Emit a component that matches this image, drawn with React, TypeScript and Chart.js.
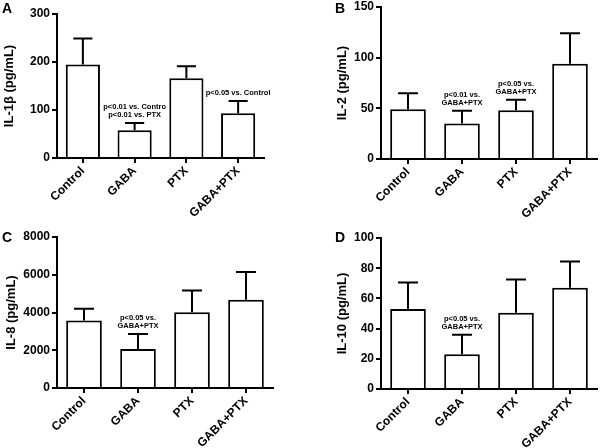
import React, { useEffect, useRef } from "react";
import { Chart, registerables } from "chart.js";

Chart.register(...registerables);

const FONT = "'Liberation Sans', Arial, sans-serif";
Chart.defaults.font.family = FONT;
Chart.defaults.color = "#000";

const categories = ["Control", "GABA", "PTX", "GABA+PTX"];

// Panel A: IL-1β
const il1bMeans = [195, 58, 166, 93];
const il1bSD = [54, 15, 25, 26];
const il1bNotes = [[], ["p<0.01 vs. Contro", "p<0.01 vs. PTX"], [], ["p<0.05 vs. Control"]];
const il1bMax = 300;
const il1bStep = 100;

// Panel B: IL-2
const il2Means = [49, 35, 48, 94];
const il2SD = [16, 12.5, 10.5, 30];
const il2Notes = [[], ["p<0.01 vs.", "GABA+PTX"], ["p<0.05 vs.", "GABA+PTX"], []];
const il2Max = 150;
const il2Step = 50;

// Panel C: IL-8
const il8Means = [3570, 2060, 4010, 4680];
const il8SD = [630, 800, 1150, 1470];
const il8Notes = [[], ["p<0.05 vs.", "GABA+PTX"], [], []];
const il8Max = 8000;
const il8Step = 2000;

// Panel D: IL-10
const il10Means = [53, 23, 50.5, 67];
const il10SD = [17.5, 13, 22, 17.5];
const il10Notes = [[], ["p<0.05 vs.", "GABA+PTX"], [], []];
const il10Max = 100;
const il10Step = 20;

const W = 300;
const H = 224;

type PanelProps = {
  letter: string;
  letterX: number;
  letterY: number;
  title: string;
  titlePad: number;
  means: number[];
  sd: number[];
  notes: string[][];
  max: number;
  step: number;
  area: { l: number; r: number; t: number; b: number };
  left: number;
  top: number;
};

function Panel(p: PanelProps) {
  const ref = useRef<HTMLCanvasElement>(null);
  useEffect(() => {
    const overlay = {
      id: "errorbars",
      afterDatasetsDraw(chart: any) {
        const ctx = chart.ctx;
        const meta = chart.getDatasetMeta(0);
        const ys = chart.scales.y;
        ctx.save();
        ctx.strokeStyle = "#000";
        ctx.fillStyle = "#000";
        ctx.lineWidth = 2;
        meta.data.forEach((bar: any, i: number) => {
          const x = bar.x;
          const y0 = ys.getPixelForValue(p.means[i]);
          const y1 = ys.getPixelForValue(p.means[i] + p.sd[i]);
          const cap = (bar.width * 0.56) / 2;
          ctx.beginPath();
          ctx.moveTo(x, y0);
          ctx.lineTo(x, y1);
          ctx.moveTo(x - cap, y1);
          ctx.lineTo(x + cap, y1);
          ctx.stroke();
          const lines = p.notes[i];
          if (lines.length) {
            ctx.font = `bold 7.5px ${FONT}`;
            ctx.textAlign = "center";
            ctx.textBaseline = "bottom";
            const n = lines.length;
            lines.forEach((ln, k) => {
              ctx.fillText(ln, x, y1 - 4 - (n - 1 - k) * 8);
            });
          }
        });
        ctx.font = `bold 14px ${FONT}`;
        ctx.textAlign = "left";
        ctx.textBaseline = "alphabetic";
        ctx.fillText(p.letter, p.letterX, p.letterY);
        ctx.restore();
      },
    };

    const chart = new Chart(ref.current as HTMLCanvasElement, {
      type: "bar",
      data: {
        labels: categories,
        datasets: [
          {
            data: p.means,
            backgroundColor: "#fff",
            borderColor: "#000",
            borderWidth: 2,
            categoryPercentage: 1,
            barPercentage: 0.66,
          },
        ],
      },
      options: {
        responsive: false,
        animation: false,
        devicePixelRatio: 1,
        layout: { padding: { top: p.area.t, right: W - p.area.r, left: 0, bottom: 0 } },
        plugins: { legend: { display: false }, tooltip: { enabled: false } },
        scales: {
          x: {
            type: "category",
            offset: true,
            grid: {
              display: true,
              offset: false,
              drawOnChartArea: false,
              drawTicks: true,
              tickLength: 5,
              color: "#000",
              lineWidth: 2,
            },
            border: { display: true, color: "#000", width: 2 },
            ticks: {
              minRotation: 45,
              maxRotation: 45,
              autoSkip: false,
              color: "#000",
              padding: 1,
              font: { family: FONT, size: 12, weight: "bold" },
            },
            afterFit: (s: any) => {
              s.height = H - p.area.b;
              s.paddingLeft = 0;
              s.paddingRight = 0;
            },
          },
          y: {
            min: 0,
            max: p.max,
            ticks: {
              stepSize: p.step,
              color: "#000",
              padding: 2,
              font: { family: FONT, size: 12, weight: "bold" },
              callback: (v: any) => String(v),
            },
            grid: {
              drawOnChartArea: false,
              drawTicks: true,
              tickLength: 5,
              color: "#000",
              lineWidth: 2,
            },
            border: { display: true, color: "#000", width: 2 },
            title: {
              display: true,
              text: p.title,
              color: "#000",
              font: { family: FONT, size: 13, weight: "bold" },
              padding: { top: p.titlePad, bottom: 0 },
            },
            afterFit: (s: any) => {
              s.width = p.area.l;
              s.paddingTop = 0;
              s.paddingBottom = 0;
            },
          },
        },
      } as any,
      plugins: [overlay],
    });
    return () => chart.destroy();
  }, []);
  return (
    <canvas
      ref={ref}
      width={W}
      height={H}
      style={{ position: "absolute", left: p.left, top: p.top, width: W, height: H }}
    />
  );
}

export default function App() {
  return (
    <div
      style={{
        position: "absolute",
        left: 0,
        top: 0,
        width: 600,
        height: 448,
        background: "#fff",
        overflow: "hidden",
      }}
    >
      <Panel
        letter="A"
        letterX={2}
        letterY={13}
        title="IL-1β (pg/mL)"
        titlePad={2}
        means={il1bMeans}
        sd={il1bSD}
        notes={il1bNotes}
        max={il1bMax}
        step={il1bStep}
        area={{ l: 57, r: 264, t: 14, b: 158 }}
        left={0}
        top={0}
      />
      <Panel
        letter="B"
        letterX={35}
        letterY={13}
        title="IL-2 (pg/mL)"
        titlePad={35}
        means={il2Means}
        sd={il2SD}
        notes={il2Notes}
        max={il2Max}
        step={il2Step}
        area={{ l: 81, r: 297, t: 7, b: 159 }}
        left={300}
        top={0}
      />
      <Panel
        letter="C"
        letterX={2}
        letterY={18}
        title="IL-8 (pg/mL)"
        titlePad={4}
        means={il8Means}
        sd={il8SD}
        notes={il8Notes}
        max={il8Max}
        step={il8Step}
        area={{ l: 57, r: 273, t: 13, b: 164 }}
        left={0}
        top={224}
      />
      <Panel
        letter="D"
        letterX={35}
        letterY={18}
        title="IL-10 (pg/mL)"
        titlePad={35}
        means={il10Means}
        sd={il10SD}
        notes={il10Notes}
        max={il10Max}
        step={il10Step}
        area={{ l: 81, r: 297, t: 14, b: 165 }}
        left={300}
        top={224}
      />
    </div>
  );
}
